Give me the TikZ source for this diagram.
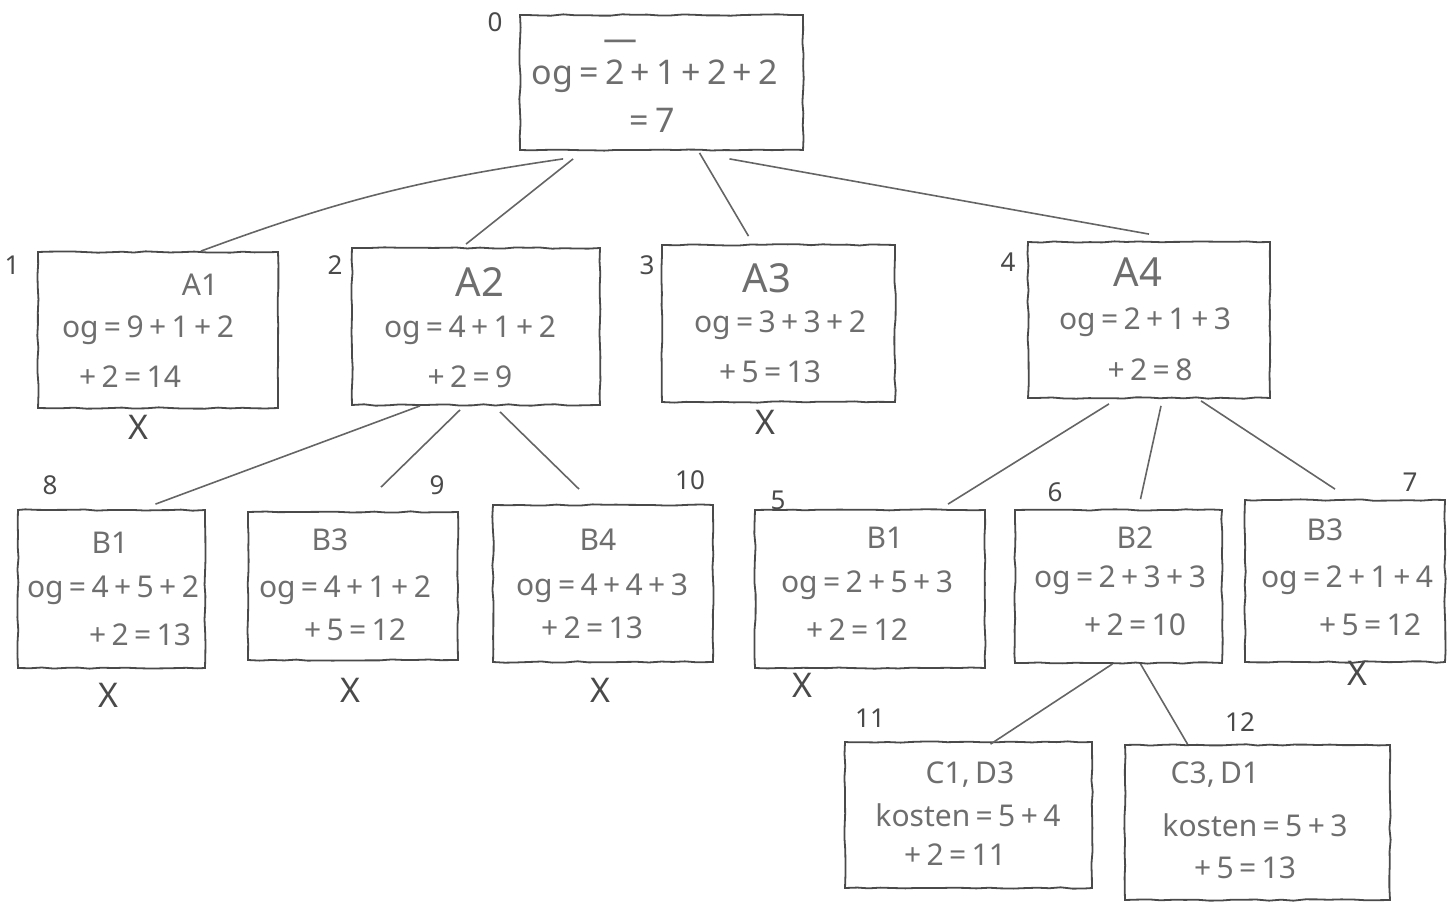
\documentclass[tikz,border=0pt]{standalone}
\usepackage{fontspec}
\setmainfont{Noto Sans}
\usetikzlibrary{fit,decorations.pathmorphing}
\definecolor{textc}{HTML}{6E6E6E}
\definecolor{linec}{HTML}{4A4A4A}
\newcommand{\tightsp}{\spaceskip=0.18em plus 0.05em\relax}
\begin{document}
\begin{tikzpicture}[x=0.5pt,y=-0.5pt,
  box/.style={draw=linec, line width=0.9pt, inner sep=0pt, decorate,
    decoration={random steps, segment length=6pt, amplitude=0.35pt}},
  txt/.style={text=textc, inner sep=0pt, font=\fontsize{15}{18}\selectfont\tightsp},
  roottxt/.style={text=textc, inner sep=0pt, font=\fontsize{17}{20}\selectfont\tightsp},
  big/.style={text=textc, inner sep=0pt, font=\fontsize{20}{24}\selectfont},
  lab/.style={text=linec, inner sep=0pt, font=\fontsize{13}{15}\selectfont},
  xmark/.style={text=linec, inner sep=0pt, font=\fontsize{17}{20}\selectfont},
  edge/.style={draw=linec!85, line width=0.8pt}]
\useasboundingbox (0,0) rectangle (1454,908);

% ---------- boxes ----------
\node[box, fit={(520,15) (803,150)}] (n0) {};
\node[box, fit={(38,252) (278,408)}] (n1) {};
\node[box, fit={(352,248) (600,405)}] (n2) {};
\node[box, fit={(662,245) (895,402)}] (n3) {};
\node[box, fit={(1028,242) (1270,398)}] (n4) {};
\node[box, fit={(18,510) (205,668)}] (n8) {};
\node[box, fit={(248,512) (458,660)}] (n9) {};
\node[box, fit={(493,505) (713,662)}] (n10) {};
\node[box, fit={(755,510) (985,668)}] (n5) {};
\node[box, fit={(1015,510) (1222,663)}] (n6) {};
\node[box, fit={(1245,500) (1445,662)}] (n7) {};
\node[box, fit={(845,742) (1092,888)}] (n11) {};
\node[box, fit={(1125,745) (1390,900)}] (n12) {};

% ---------- labels ----------
\node[lab] (l0) at (495,22) {0};
\node[lab] (l1) at (12,265) {1};
\node[lab] (l2) at (335,265) {2};
\node[lab] (l3) at (647,265) {3};
\node[lab] (l4) at (1008,262) {4};
\node[lab] (l8) at (50,485) {8};
\node[lab] (l9) at (437,485) {9};
\node[lab] (l10) at (690,480) {10};
\node[lab] (l5) at (778,500) {5};
\node[lab] (l6) at (1055,492) {6};
\node[lab] (l7) at (1410,482) {7};
\node[lab] (l11) at (870,718) {11};
\node[lab] (l12) at (1240,722) {12};

% ---------- texts ----------
\node[roottxt] (t0a) at (620,45) {—};
\node[roottxt] (t0b) at (655,76) {og = 2 + 1 + 2 + 2};
\node[roottxt] (t0c) at (652,120) {= 7};

\node[txt] (t1a) at (200,285) {A1};
\node[txt] (t1b) at (148,330) {og = 9 + 1 + 2};
\node[txt] (t1c) at (130,377) {+ 2 = 14};

\node[big] (t2a) at (480,282) {A2};
\node[txt] (t2b) at (470,330) {og = 4 + 1 + 2};
\node[txt] (t2c) at (470,377) {+ 2 = 9};

\node[big] (t3a) at (767,278) {A3};
\node[txt] (t3b) at (780,325) {og = 3 + 3 + 2};
\node[txt] (t3c) at (770,372) {+ 5 = 13};

\node[big] (t4a) at (1138,272) {A4};
\node[txt] (t4b) at (1145,322) {og = 2 + 1 + 3};
\node[txt] (t4c) at (1150,370) {+ 2 = 8};

\node[txt] (t8a) at (110,543) {B1};
\node[txt] (t8b) at (113,590) {og = 4 + 5 + 2};
\node[txt] (t8c) at (140,635) {+ 2 = 13};

\node[txt] (t9a) at (330,540) {B3};
\node[txt] (t9b) at (345,590) {og = 4 + 1 + 2};
\node[txt] (t9c) at (355,630) {+ 5 = 12};

\node[txt] (t10a) at (598,540) {B4};
\node[txt] (t10b) at (602,588) {og = 4 + 4 + 3};
\node[txt] (t10c) at (592,628) {+ 2 = 13};

\node[txt] (t5a) at (885,538) {B1};
\node[txt] (t5b) at (867,585) {og = 2 + 5 + 3};
\node[txt] (t5c) at (857,630) {+ 2 = 12};

\node[txt] (t6a) at (1135,538) {B2};
\node[txt] (t6b) at (1120,580) {og = 2 + 3 + 3};
\node[txt] (t6c) at (1135,625) {+ 2 = 10};

\node[txt] (t7a) at (1325,530) {B3};
\node[txt] (t7b) at (1347,580) {og = 2 + 1 + 4};
\node[txt] (t7c) at (1370,625) {+ 5 = 12};

\node[txt] (t11a) at (970,775) {C1, D3};
\node[txt] (t11b) at (968,815) {kosten = 5 + 4};
\node[txt] (t11c) at (955,855) {+ 2 = 11};

\node[txt] (t12a) at (1215,775) {C3, D1};
\node[txt] (t12b) at (1255,825) {kosten = 5 + 3};
\node[txt] (t12c) at (1245,868) {+ 5 = 13};

% ---------- crosses ----------
\node[xmark] (x1) at (138,427) {X};
\node[xmark] (x3) at (765,422) {X};
\node[xmark] (x8) at (108,695) {X};
\node[xmark] (x9) at (350,690) {X};
\node[xmark] (x10) at (600,690) {X};
\node[xmark] (x5) at (802,685) {X};
\node[xmark] (x7) at (1357,673) {X};

% ---------- connectors ----------
\draw[edge] ([xshift=22pt,yshift=-4pt]n0.south west) to[bend right=6] ([xshift=-39pt]n1.north east);
\draw[edge] ([xshift=27pt,yshift=-4pt]n0.south west) -- ([xshift=-5pt,yshift=1.5pt]n2.north);
\draw[edge] ([xshift=19pt,yshift=-1pt]n0.south) -- ([xshift=-15pt,yshift=4pt]n3.north);
\draw[edge] ([xshift=34pt,yshift=-4pt]n0.south) -- ([yshift=3.5pt]n4.north);
\draw[edge] ([xshift=-28pt]n2.south) -- ([xshift=22pt,yshift=2.5pt]n8.north);
\draw[edge] ([xshift=-8pt,yshift=-2pt]n2.south) -- ([xshift=14pt,yshift=12pt]n9.north);
\draw[edge] ([xshift=12pt,yshift=-3pt]n2.south) -- ([xshift=-12pt,yshift=7.5pt]n10.north);
\draw[edge] ([xshift=-20pt,yshift=-2.5pt]n4.south) -- ([xshift=39pt,yshift=2.5pt]n5.north);
\draw[edge] ([xshift=6pt,yshift=-3.5pt]n4.south) -- ([xshift=11pt,yshift=5pt]n6.north);
\draw[edge] ([xshift=26pt,yshift=-1pt]n4.south) -- ([xshift=-5pt,yshift=5pt]n7.north);
\draw[edge] ([xshift=-3pt]n6.south) -- ([xshift=11pt,yshift=-1.5pt]n11.north);
\draw[edge] ([xshift=11pt]n6.south) -- ([xshift=-35pt]n12.north);
\end{tikzpicture}
\end{document}
